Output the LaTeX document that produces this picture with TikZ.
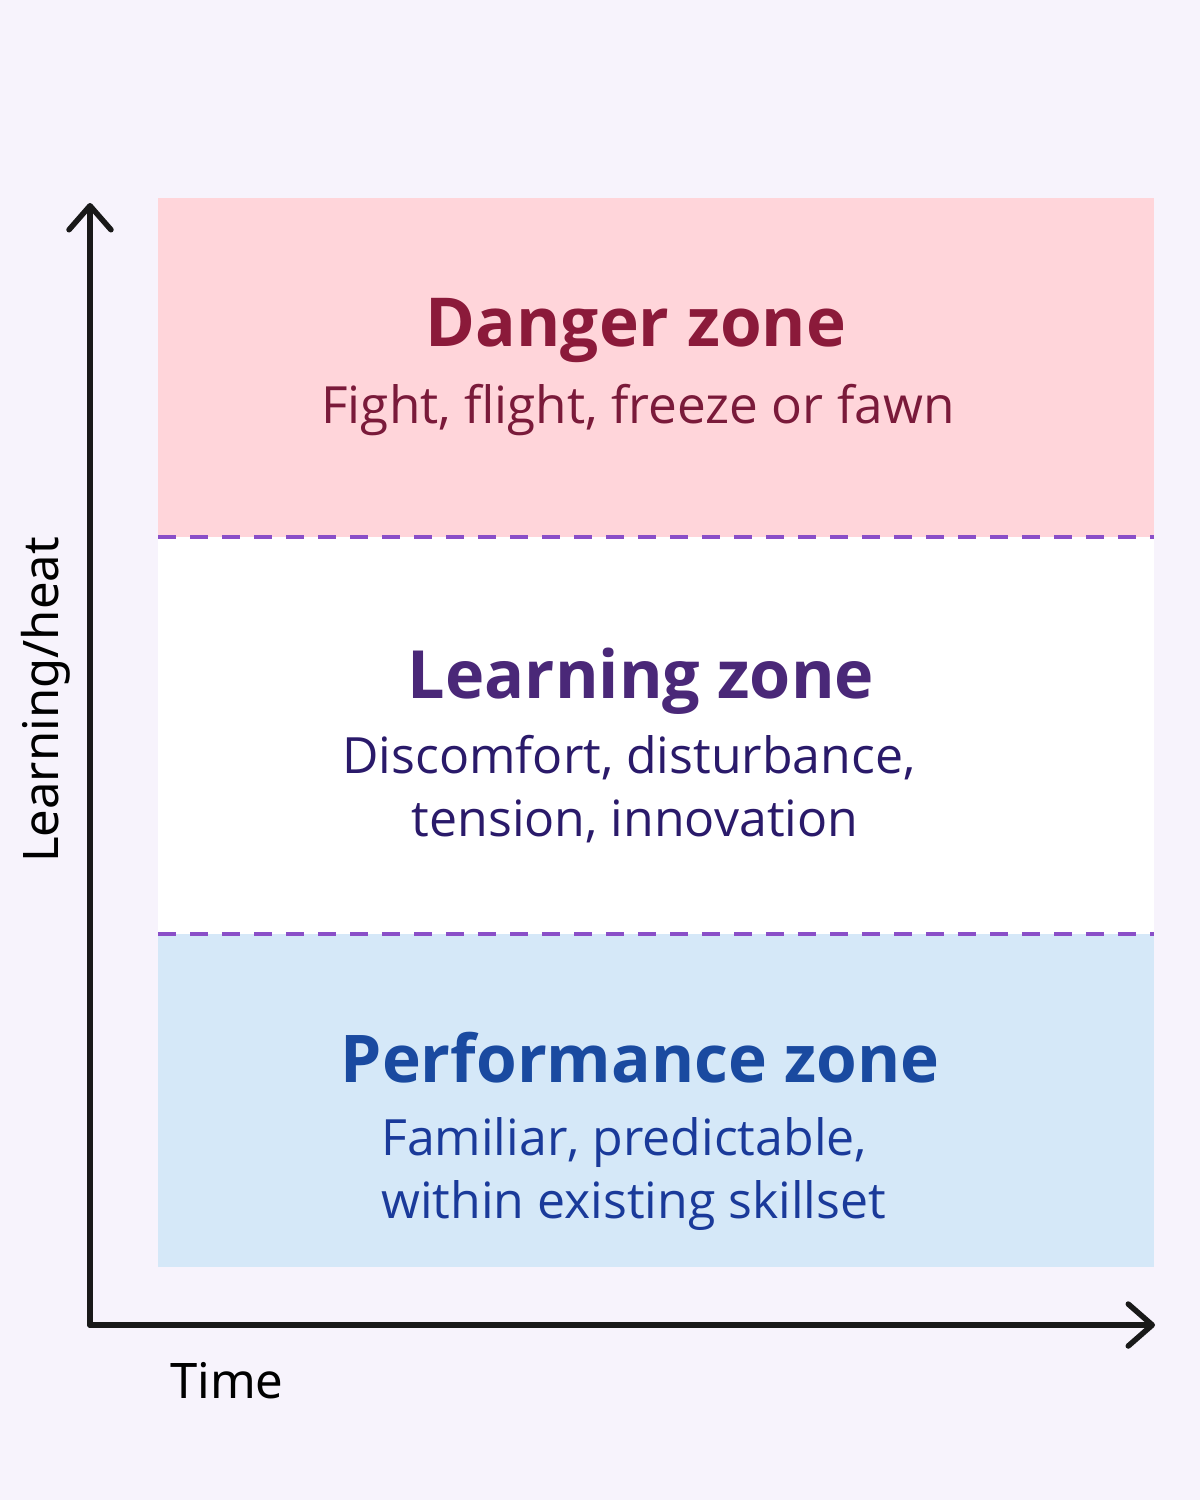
\documentclass[tikz,border=0pt]{standalone}
\usepackage{fontspec}
\setmainfont{Open Sans}
\newfontfamily\axisfont{Noto Sans}
\usetikzlibrary{arrows.meta}
\definecolor{bgc}{HTML}{F7F3FC}
\definecolor{dangerfill}{HTML}{FFD5DA}
\definecolor{perffill}{HTML}{D5E8F8}
\definecolor{dashc}{HTML}{8A4FC8}
\definecolor{dangertitle}{HTML}{8B1A3A}
\definecolor{dangersub}{HTML}{7A1A3A}
\definecolor{learntitle}{HTML}{4A2878}
\definecolor{learnsub}{HTML}{2A1A6A}
\definecolor{perftitle}{HTML}{1A4AA0}
\definecolor{perfsub}{HTML}{1A3A9A}
\tikzset{
  axisline/.style={line width=5.5pt, black!90, line cap=round, line join=round,
    -{Straight Barb[length=24pt,width=42pt,line cap=round,line join=round]}},
  zonedash/.style={dashc, line width=3.5pt, dash pattern=on 18pt off 14pt},
  ztitle/.style={font=\fontsize{66.5}{70}\selectfont\bfseries, inner sep=0pt, anchor=base},
  zsub/.style={font=\fontsize{50}{64}\selectfont, inner sep=0pt, anchor=base},
  axlabel/.style={font=\axisfont\fontsize{49}{55}\selectfont, inner sep=0pt, text=black}
}
\begin{document}
\begin{tikzpicture}[x=1pt,y=-1pt]
\useasboundingbox (0,0) rectangle (1200,1500);
\fill[bgc] (0,0) rectangle (1200,1500);
% zones
\fill[dangerfill] (158,198) rectangle (1154,537);
\fill[white] (158,537) rectangle (1154,934);
\fill[perffill] (158,934) rectangle (1154,1267);
\coordinate (d1l) at (158,537); \coordinate (d1r) at (1154,537);
\coordinate (d2l) at (158,934); \coordinate (d2r) at (1154,934);
\draw[zonedash] (d1l) -- (d1r);
\draw[zonedash] (d2l) -- (d2r);
% axes
\coordinate (o) at (90,1325);
\coordinate (ytop) at (90,203);
\coordinate (xend) at (1155,1325);
\draw[axisline] (o) -- (ytop);
\draw[axisline] (o) -- (xend);
% texts
\node[ztitle, text=dangertitle, font=\fontsize{67.5}{70}\selectfont\bfseries] (dt) at (636,346) {Danger zone};
\node[zsub, text=dangersub, font=\fontsize{51.3}{64}\selectfont] (ds) at (638,423) {Fight, flight, freeze or fawn};
\node[ztitle, text=learntitle] (lt) at (641,698) {Learning zone};
\node[zsub, text=learnsub] (ls1) at (629,773) {Discomfort, disturbance,};
\node[zsub, text=learnsub] (ls2) at (635,836) {tension, innovation};
\node[ztitle, text=perftitle, font=\fontsize{65.8}{70}\selectfont\bfseries] (pt) at (640,1082) {Performance zone};
\node[zsub, text=perfsub, anchor=base west] (ps1) at (381,1155) {Familiar, predictable,};
\node[zsub, text=perfsub, anchor=base west] (ps2) at (381,1218) {within existing skillset};
\node[axlabel, rotate=90, anchor=base] (yl) at (58,700) {Learning/heat};
\node[axlabel, anchor=base west] (xl) at (170,1398) {Time};
\end{tikzpicture}
\end{document}
